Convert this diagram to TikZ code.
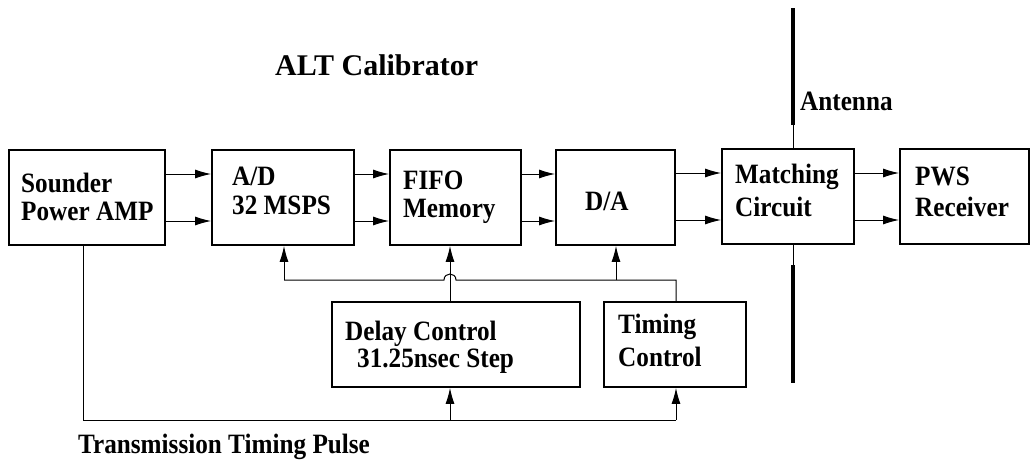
\documentclass[tikz,border=0pt]{standalone}
\usepackage{fontspec}
\setmainfont{Liberation Serif}[FakeStretch=0.9]
\newfontfamily\titlefont{Liberation Serif}
\usetikzlibrary{arrows.meta}
\begin{document}
\begin{tikzpicture}[x=1pt,y=-1pt,
  box/.style={draw,line width=1.8pt,inner sep=0pt},
  lbl/.style={anchor=base west,inner sep=0pt,font=\fontsize{28}{32}\selectfont\bfseries},
  conn/.style={line width=1pt},
  arr/.style={conn,-{Latex[length=16pt,width=9pt]}},
  ant/.style={line width=4pt}]
\useasboundingbox (0,0) rectangle (1036,461);
% boxes
\node[box,minimum width=156pt,minimum height=95pt] (snd) at (87,197.5) {};
\node[box,minimum width=142pt,minimum height=95pt] (ad) at (283,197.5) {};
\node[box,minimum width=131pt,minimum height=95pt] (fifo) at (455.5,197.5) {};
\node[box,minimum width=119pt,minimum height=95pt] (da) at (615.5,197.5) {};
\node[box,minimum width=132pt,minimum height=95pt] (mat) at (788,196.5) {};
\node[box,minimum width=129pt,minimum height=95pt] (pws) at (964.5,196.5) {};
\node[box,minimum width=248pt,minimum height=85pt] (del) at (456,344.5) {};
\node[box,minimum width=142pt,minimum height=85pt] (tim) at (675,344.5) {};
% labels
\node[lbl] at (21,192) {Sounder};
\node[lbl] at (21,220) {Power AMP};
\node[lbl] at (232,185) {A/D};
\node[lbl] at (232,214) {32 MSPS};
\node[lbl] at (403,189) {FIFO};
\node[lbl] at (403,217) {Memory};
\node[lbl] at (585,210) {D/A};
\node[lbl] at (735,183) {Matching};
\node[lbl] at (735,216) {Circuit};
\node[lbl] at (915,185) {PWS};
\node[lbl] at (915,216) {Receiver};
\node[lbl] at (345,340) {Delay Control};
\node[lbl] at (357,367) {31.25nsec Step};
\node[lbl] at (618,333) {Timing};
\node[lbl] at (618,366) {Control};
\node[lbl] (ant) at (800,110) {Antenna};
\node[lbl,font=\titlefont\fontsize{30}{34}\selectfont\bfseries] (title) at (275,75) {ALT Calibrator};
\node[lbl] (tp) at (78,453) {Transmission Timing Pulse};
% helper coordinates
\coordinate (u) at (0,174);
\coordinate (l) at (0,221);
\coordinate (mu) at (0,173);
\coordinate (ml) at (0,220);
\coordinate (xs) at (83,0);
\coordinate (xa) at (284,0);
\coordinate (xf) at (450,0);
\coordinate (xd) at (616,0);
\coordinate (xt) at (676,0);
\coordinate (fb) at (0,280);
\coordinate (bt) at (0,420);
\coordinate (bumpR) at (456,280);
\coordinate (bumpL) at (444,280);
% forward signal arrows
\draw[arr] (snd.east|-u) -- (ad.west|-u);
\draw[arr] (snd.east|-l) -- (ad.west|-l);
\draw[arr] (ad.east|-u) -- (fifo.west|-u);
\draw[arr] (ad.east|-l) -- (fifo.west|-l);
\draw[arr] (fifo.east|-u) -- (da.west|-u);
\draw[arr] (fifo.east|-l) -- (da.west|-l);
\draw[arr] (da.east|-mu) -- (mat.west|-mu);
\draw[arr] (da.east|-ml) -- (mat.west|-ml);
\draw[arr] (mat.east|-mu) -- (pws.west|-mu);
\draw[arr] (mat.east|-ml) -- (pws.west|-ml);
% antenna
\coordinate (a1) at (793,8);
\coordinate (a2) at (793,125);
\coordinate (a3) at (793,265);
\coordinate (a4) at (793,383);
\draw[ant] (a1) -- (a2);
\draw[conn] (a2) -- (mat.north-|a2);
\draw[conn] (mat.south-|a3) -- (a3);
\draw[ant] (a3) -- (a4);
% feedback (timing control) bus
\draw[conn] (tim.north-|xt) -- (xt|-fb) -- (bumpR)
  .. controls (456,272) and (444,272) .. (bumpL) -- (xa|-fb);
\draw[arr] (xa|-fb) -- (ad.south-|xa);
\draw[arr] (xd|-fb) -- (da.south-|xd);
\draw[arr] (del.north-|xf) -- (fifo.south-|xf);
% transmission timing pulse
\draw[conn] (snd.south-|xs) -- (xs|-bt) -- (xt|-bt);
\draw[arr] (xf|-bt) -- (del.south-|xf);
\draw[arr] (xt|-bt) -- (tim.south-|xt);
\end{tikzpicture}
\end{document}
